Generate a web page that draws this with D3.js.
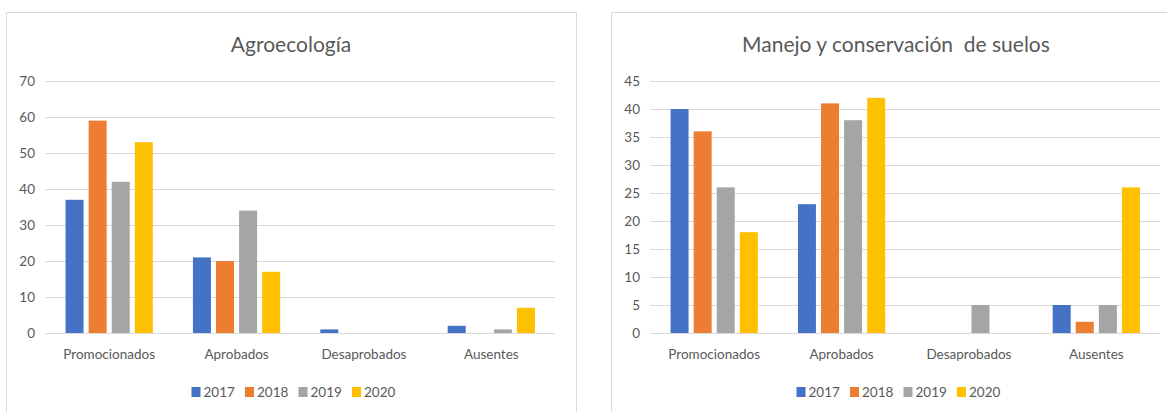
<!DOCTYPE html>
<html><head><meta charset="utf-8">
<script src="https://cdn.jsdelivr.net/npm/d3@7/dist/d3.min.js"></script>
<style>
html,body{margin:0;padding:0;background:#fff;}
svg{display:block;}
text{font-family:Lato,"Open Sans",sans-serif;fill:#595959;white-space:pre;}
</style></head>
<body>
<svg id="c" width="1167" height="412"></svg>
<script>
const categories = ["Promocionados","Aprobados","Desaprobados","Ausentes"];
const years = ["2017","2018","2019","2020"];
const colors = ["#4472C4","#ED7D31","#A5A5A5","#FFC000"];

const agroTitle = "Agroecología";
const agro2017 = [37,21,1,2];
const agro2018 = [59,20,0,0];
const agro2019 = [42,34,0,1];
const agro2020 = [53,17,0,7];
const agroTicks = [0,10,20,30,40,50,60,70];

const suelosTitle = "Manejo y conservación  de suelos";
const suelos2017 = [40,23,0,5];
const suelos2018 = [36,41,0,2];
const suelos2019 = [26,38,5,5];
const suelos2020 = [18,42,0,26];
const suelosTicks = [0,5,10,15,20,25,30,35,40,45];

const svg = d3.select("#c");

function drawChart(fx, title, series, ticks){
  const g = svg.append("g");
  const W = 570;
  g.append("rect").attr("x",fx+0.5).attr("y",12.5).attr("width",W).attr("height",440)
    .attr("fill","#fff").attr("stroke","#d9d9d9").attr("stroke-width",1);
  const x0 = d3.scaleBand().domain(categories).range([fx+39.5, fx+549]).paddingInner(0.275).paddingOuter(0.1375);
  const x1 = d3.scaleBand().domain(years).range([0, x0.bandwidth()]).paddingInner(0.22).paddingOuter(0.11);
  const y = d3.scaleLinear().domain([0, d3.max(ticks)]).range([333, 81]);

  // gridlines
  g.selectAll("line.grid").data(ticks).join("line")
    .attr("x1",fx+39.5).attr("x2",fx+549)
    .attr("y1",d=>Math.round(y(d))+0.5).attr("y2",d=>Math.round(y(d))+0.5)
    .attr("stroke","#d9d9d9").attr("stroke-width",1);
  // y labels
  g.selectAll("text.yl").data(ticks).join("text")
    .attr("x",fx+29).attr("y",d=>y(d)).attr("dy","0.36em")
    .attr("text-anchor","end").attr("font-size",13.5).text(d=>d);
  // bars
  categories.forEach((c,ci)=>{
    years.forEach((yr,yi)=>{
      const v = series[yi][ci];
      if(v>0){
        g.append("rect").attr("x",x0(c)+x1(yr)).attr("width",x1.bandwidth())
          .attr("y",y(v)).attr("height",y(0)-y(v)).attr("fill",colors[yi]);
      }
    });
  });
  // category labels
  g.selectAll("text.cl").data(categories).join("text")
    .attr("x",d=>x0(d)+x0.bandwidth()/2).attr("y",359)
    .attr("text-anchor","middle").attr("font-size",13.5).text(d=>d);
  // title
  g.append("text").attr("x",fx+285).attr("y",52).attr("text-anchor","middle")
    .attr("font-size",21).text(title);
  // legend
  const cx = fx+285;
  years.forEach((yr,i)=>{
    const lx = cx-99.5+i*53.5;
    g.append("rect").attr("x",lx).attr("y",387).attr("width",9).attr("height",10).attr("fill",colors[i]);
    g.append("text").attr("x",lx+12).attr("y",397).attr("font-size",13.5).text(yr);
  });
}

drawChart(6, agroTitle, [agro2017,agro2018,agro2019,agro2020], agroTicks);
drawChart(611, suelosTitle, [suelos2017,suelos2018,suelos2019,suelos2020], suelosTicks);
</script>
</body></html>
